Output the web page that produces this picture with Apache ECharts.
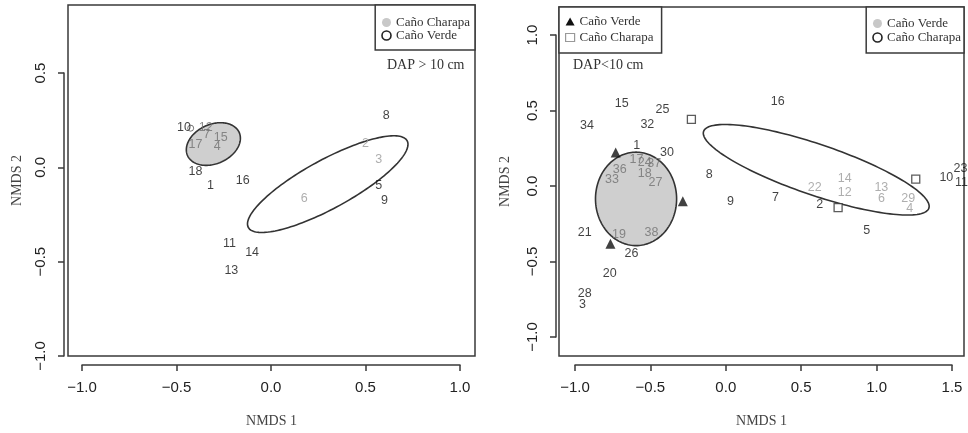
<!DOCTYPE html>
<html><head><meta charset="utf-8">
<script src="https://cdn.jsdelivr.net/npm/echarts@6/dist/echarts.min.js"></script>
<style>html,body{margin:0;padding:0;background:#fff}#c{width:968px;height:433px}</style>
</head><body><div id="c"></div>
<script>
// ---------- Left panel: DAP > 10 cm ----------
const leftXTicks = [-1.0, -0.5, 0.0, 0.5, 1.0];
const leftYTicks = [-1.0, -0.5, 0.0, 0.5];
const leftBlackNames = ['8', '5', '9', '16', '1', '18', '11', '14', '13', '10'];
const leftBlackX = [0.61, 0.57, 0.60, -0.15, -0.32, -0.40, -0.22, -0.10, -0.21, -0.46];
const leftBlackY = [0.265, -0.11, -0.19, -0.08, -0.11, -0.03, -0.42, -0.465, -0.565, 0.205];
const leftGrayNames = ['2', '3', '6'];
const leftGrayX = [0.50, 0.57, 0.175];
const leftGrayY = [0.12, 0.03, -0.175];
const leftClusterNames = ['12', '7', '17', '15', '4'];
const leftClusterX = [-0.345, -0.34, -0.40, -0.266, -0.284];
const leftClusterY = [0.205, 0.166, 0.113, 0.148, 0.099];
const leftCircleX = [-0.425];
const leftCircleY = [0.20];
// ellipse: [centerX, centerY, semiMajor, semiMinor, angleDeg]
const leftEllipseCharapa = [-0.305, 0.115, 0.15, 0.105, 25];
const leftEllipseVerde = [0.30, -0.10, 0.48, 0.13, 29];

// ---------- Right panel: DAP < 10 cm ----------
const rightXTicks = [-1.0, -0.5, 0.0, 0.5, 1.0, 1.5];
const rightYTicks = [-1.0, -0.5, 0.0, 0.5, 1.0];
const rightBlackNames = ['15', '25', '34', '32', '16', '1', '30', '8', '9', '7', '2', '5', '10', '23', '11', '21', '26', '20', '28', '3'];
const rightBlackX = [-0.69, -0.42, -0.92, -0.52, 0.345, -0.59, -0.39, -0.11, 0.031, 0.33, 0.623, 0.935, 1.463, 1.556, 1.563, -0.935, -0.625, -0.77, -0.935, -0.95];
const rightBlackY = [0.54, 0.50, 0.39, 0.40, 0.555, 0.256, 0.21, 0.062, -0.115, -0.088, -0.137, -0.31, 0.04, 0.10, 0.007, -0.325, -0.469, -0.60, -0.735, -0.81];
const rightClusterNames = ['17', '24', '37', '36', '33', '18', '27', '19', '38'];
const rightClusterX = [-0.592, -0.537, -0.475, -0.703, -0.754, -0.537, -0.466, -0.708, -0.493];
const rightClusterY = [0.161, 0.146, 0.139, 0.095, 0.029, 0.073, 0.007, -0.336, -0.325];
const rightGrayNames = ['22', '14', '12', '13', '6', '29', '4'];
const rightGrayX = [0.59, 0.789, 0.789, 1.032, 1.032, 1.21, 1.22];
const rightGrayY = [-0.027, 0.033, -0.06, -0.027, -0.097, -0.097, -0.164];
const rightTriangleX = [-0.73, -0.285, -0.765];
const rightTriangleY = [0.21, -0.115, -0.40];
const rightSquareX = [-0.228, 0.745, 1.26];
const rightSquareY = [0.433, -0.159, 0.033];
const rightEllipseVerde = [-0.595, -0.10, 0.313, 0.269, 90];
const rightEllipseCharapa = [0.60, 0.095, 0.79, 0.17, -19];

// ---------- helpers ----------
const serif = "'Liberation Serif', 'Times New Roman', serif";
const sans = "'Liberation Sans', Arial, sans-serif";
const boxColor = '#3a3a3a';
function pts(names, xs, ys) { return xs.map((x, i) => ({ name: names ? names[i] : '', value: [x, ys[i]] })); }
function labelSeries(names, xs, ys, color, ai) {
  return { type: 'scatter', xAxisIndex: ai, yAxisIndex: ai, symbolSize: 1, silent: true, z: 5,
    itemStyle: { color: 'rgba(0,0,0,0)' },
    label: { show: true, position: 'inside', formatter: '{b}', color: color, fontFamily: sans, fontSize: 12.5 },
    data: pts(names, xs, ys) };
}
function ellipseSeries(name, p, fill, ai) {
  return { type: 'custom', name: name, coordinateSystem: 'cartesian2d', xAxisIndex: ai, yAxisIndex: ai, z: 2, silent: true,
    data: [p],
    renderItem: function (params, api) {
      const cx = p[0], cy = p[1], a = p[2], b = p[3], t = p[4] * Math.PI / 180;
      const points = [];
      for (let i = 0; i < 160; i++) {
        const s = 2 * Math.PI * i / 160;
        const u = a * Math.cos(s), v = b * Math.sin(s);
        points.push(api.coord([cx + u * Math.cos(t) - v * Math.sin(t), cy + u * Math.sin(t) + v * Math.cos(t)]));
      }
      return { type: 'polygon', shape: { points: points }, style: { fill: fill, stroke: '#333', lineWidth: 1.6 } };
    } };
}
const fmt = v => v.toFixed(1).replace('-', '\u2212');
function hiddenAxis(grid, min, max, extra) {
  return Object.assign({ type: 'value', gridIndex: grid, min: min, max: max, show: false }, extra || {});
}
function nameAxis(grid, min, max, name, gap, isY) {
  return { type: 'value', gridIndex: grid, min: min, max: max, show: true, name: name, nameLocation: 'middle', nameGap: gap,
    nameTextStyle: { fontFamily: serif, fontSize: 14, color: '#444' },
    axisLine: { show: false }, axisTick: { show: false }, axisLabel: { show: false }, splitLine: { show: false } };
}
function tickAxis(grid, ticks, margin, isY) {
  return { type: 'value', gridIndex: grid, min: ticks[0], max: ticks[ticks.length - 1], interval: 0.5,
    axisLine: { show: true, onZero: false, lineStyle: { color: boxColor, width: 1.5 } },
    axisTick: { show: true, length: 6, lineStyle: { color: boxColor, width: 1.5 } },
    axisLabel: { show: true, margin: margin, rotate: isY ? 90 : 0, formatter: fmt, fontFamily: sans, fontSize: 15, color: '#222',
      showMinLabel: true, showMaxLabel: true },
    splitLine: { show: false } };
}
const legendText = { fontFamily: serif, fontSize: 13, color: '#333' };
const grayItem = { color: '#c8c8c8', borderWidth: 0 };
const openItem = { color: '#ffffff', borderColor: '#222', borderWidth: 1.6 };

const option = {
  animation: false,
  backgroundColor: '#fff',
  grid: [
    { left: 68, top: 5, width: 407, height: 355, show: true, borderColor: boxColor, borderWidth: 1.5, backgroundColor: 'transparent' },
    { left: 82, top: 300, width: 378, height: 65 },
    { left: 64, top: 73, width: 20, height: 283 },
    { left: 559, top: 7, width: 405, height: 353, show: true, borderColor: boxColor, borderWidth: 1.5, backgroundColor: 'transparent' },
    { left: 575, top: 300, width: 377, height: 65 },
    { left: 556, top: 35, width: 20, height: 302 }
  ],
  xAxis: [
    nameAxis(0, -1.074, 1.079, 'NMDS 1', 58),
    tickAxis(1, leftXTicks, 15, false),
    hiddenAxis(2, 0, 1),
    nameAxis(3, -1.106, 1.58, 'NMDS 1', 58),
    tickAxis(4, rightXTicks, 15, false),
    hiddenAxis(5, 0, 1)
  ],
  yAxis: [
    nameAxis(0, -1.021, 0.86, 'NMDS 2', 44, true),
    hiddenAxis(1, 0, 1),
    tickAxis(2, leftYTicks, 16, true),
    nameAxis(3, -1.152, 1.185, 'NMDS 2', 47, true),
    hiddenAxis(4, 0, 1),
    tickAxis(5, rightYTicks, 16, true)
  ],
  legend: [
    { right: 493, top: 5, orient: 'vertical', selectedMode: false, padding: [11, 5, 8, 6], itemGap: 0, itemWidth: 9, itemHeight: 9,
      borderColor: boxColor, borderWidth: 1.5, backgroundColor: '#fff', textStyle: Object.assign({ lineHeight: 12 }, legendText),
      data: [{ name: 'Caño Charapa', icon: 'circle', itemStyle: grayItem }, { name: 'Caño Verde', icon: 'circle', itemStyle: openItem }] },
    { left: 559, top: 7, orient: 'vertical', selectedMode: false, padding: [8, 8, 9, 6], itemGap: 3, itemWidth: 9, itemHeight: 8,
      borderColor: boxColor, borderWidth: 1.5, backgroundColor: '#fff', textStyle: Object.assign({ lineHeight: 12 }, legendText),
      data: [{ name: 'Caño Verde', icon: 'triangle', itemStyle: { color: '#111', borderWidth: 0 } },
             { name: 'Caño Charapa', icon: 'rect', itemStyle: { color: '#fff', borderColor: '#999', borderWidth: 1.2 } }] },
    { right: 4, top: 7, orient: 'vertical', selectedMode: false, padding: [10, 3, 9, 6], itemGap: 1, itemWidth: 9, itemHeight: 9,
      borderColor: boxColor, borderWidth: 1.5, backgroundColor: '#fff', textStyle: Object.assign({ lineHeight: 12 }, legendText),
      data: [{ name: 'Caño Verde', icon: 'circle', itemStyle: grayItem }, { name: 'Caño Charapa', icon: 'circle', itemStyle: openItem }] }
  ],
  graphic: [
    { type: 'text', left: 387, top: 58, style: { text: 'DAP > 10 cm', font: "14px " + serif, fill: '#333' } },
    { type: 'text', left: 573, top: 58, style: { text: 'DAP<10 cm', font: "14px " + serif, fill: '#333' } }
  ],
  series: [
    ellipseSeries('Caño Charapa', leftEllipseCharapa, '#cfcfcf', 0),
    ellipseSeries('Caño Verde', leftEllipseVerde, 'rgba(255,255,255,0)', 0),
    labelSeries(leftBlackNames, leftBlackX, leftBlackY, '#111', 0),
    labelSeries(leftGrayNames, leftGrayX, leftGrayY, '#9a9a9a', 0),
    labelSeries(leftClusterNames, leftClusterX, leftClusterY, '#707070', 0),
    { type: 'scatter', xAxisIndex: 0, yAxisIndex: 0, symbol: 'circle', symbolSize: 6, z: 4, silent: true,
      itemStyle: { color: '#fff', borderColor: '#555', borderWidth: 1 }, data: pts(null, leftCircleX, leftCircleY) },

    ellipseSeries('Caño Verde', rightEllipseVerde, '#cfcfcf', 3),
    ellipseSeries('Caño Charapa', rightEllipseCharapa, 'rgba(255,255,255,0)', 3),
    labelSeries(rightBlackNames, rightBlackX, rightBlackY, '#111', 3),
    labelSeries(rightClusterNames, rightClusterX, rightClusterY, '#707070', 3),
    labelSeries(rightGrayNames, rightGrayX, rightGrayY, '#9a9a9a', 3),
    { type: 'scatter', name: 'Caño Verde', xAxisIndex: 3, yAxisIndex: 3, symbol: 'triangle', symbolSize: 10, z: 4, silent: true,
      itemStyle: { color: '#111' }, data: pts(null, rightTriangleX, rightTriangleY) },
    { type: 'scatter', name: 'Caño Charapa', xAxisIndex: 3, yAxisIndex: 3, symbol: 'rect', symbolSize: 8, z: 4, silent: true,
      itemStyle: { color: '#fff', borderColor: '#333', borderWidth: 1.3 }, data: pts(null, rightSquareX, rightSquareY) }
  ]
};
const chart = echarts.init(document.getElementById('c'));
chart.setOption(option);
</script>
</body></html>
